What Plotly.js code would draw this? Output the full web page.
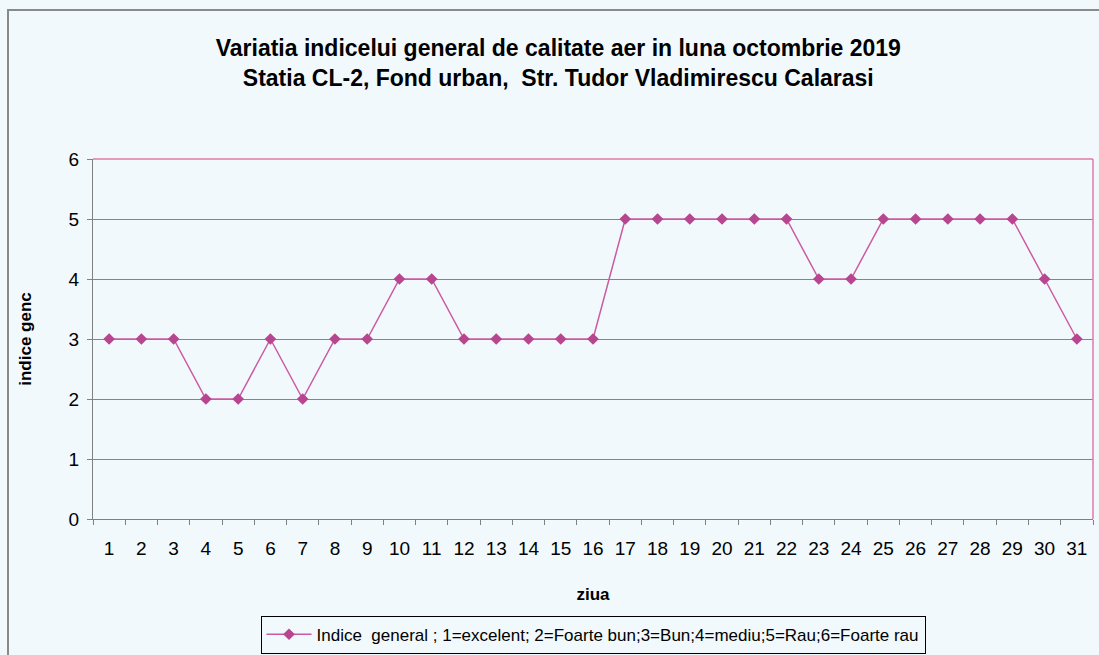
<!DOCTYPE html>
<html>
<head>
<meta charset="utf-8">
<script src="https://cdn.plot.ly/plotly-3.0.1.min.js"></script>
<style>html,body{margin:0;padding:0;background:#f1f9fc;}</style>
</head>
<body>
<div id="chart" style="width:1099px;height:655px;"></div>
<script>
const days = ['1','2','3','4','5','6','7','8','9','10','11','12','13','14','15','16','17','18','19','20','21','22','23','24','25','26','27','28','29','30','31'];
const indice = [3,3,3,2,2,3,2,3,3,4,4,3,3,3,3,3,5,5,5,5,5,5,4,4,5,5,5,5,5,4,3];
const seriesName = 'Indice  general ; 1=excelent; 2=Foarte bun;3=Bun;4=mediu;5=Rau;6=Foarte rau';
const titleText = 'Variatia indicelui general de calitate aer in luna octombrie 2019<br>Statia CL-2, Fond urban,  Str. Tudor Vladimirescu Calarasi';

const trace = {
  x: days, y: indice, name: seriesName, type: 'scatter', mode: 'lines+markers',
  line: {color: '#cc5aa3', width: 1.5},
  marker: {symbol: 'diamond', size: 9, color: '#b8458f'},
  showlegend: true
};
const layout = {
  width: 1099, height: 655,
  paper_bgcolor: '#f1f9fc', plot_bgcolor: '#f1f9fc',
  margin: {l: 93, r: 6, t: 159, b: 136},
  font: {family: 'Arial, Liberation Sans, sans-serif', color: '#000'},
  title: {text: titleText, x: 0.508, xanchor: 'center', y: 0.915, yanchor: 'top',
          font: {size: 23, family: 'Arial, Liberation Sans, sans-serif', weight: 'bold', color: '#000'}},
  xaxis: {type: 'category', range: [-0.5, 30.5], showgrid: false, zeroline: false, automargin: false,
          showline: true, linecolor: '#808080', linewidth: 1,
          ticks: 'outside', ticklen: 5, tickcolor: '#808080', tickson: 'boundaries',
          ticklabelstandoff: 12,
          tickfont: {size: 19}, tickangle: 0,
          title: {text: 'ziua', font: {size: 17, weight: 'bold'}, standoff: 30}},
  yaxis: {range: [0, 6], dtick: 1, showgrid: true, gridcolor: '#858585', gridwidth: 1, automargin: false,
          zeroline: false, showline: true, linecolor: '#808080', linewidth: 1,
          ticks: 'outside', ticklen: 5, tickcolor: '#808080',
          ticklabelstandoff: 4,
          tickfont: {size: 19},
          title: {text: 'indice genc', font: {size: 17, weight: 'bold'}, standoff: 32}},
  showlegend: true,
  legend: {orientation: 'h', x: 0.5, xanchor: 'center', yref: 'container', y: 0.06, yanchor: 'top',
           bordercolor: '#000', borderwidth: 1, bgcolor: '#f1f9fc', itemwidth: 45,
           font: {size: 17}},
  shapes: [
    {type: 'line', xref: 'paper', yref: 'paper', x0: 0, x1: 1, y0: 1, y1: 1, line: {color: '#e07aa8', width: 1.5}},
    {type: 'line', xref: 'paper', yref: 'paper', x0: 1, x1: 1, y0: 0, y1: 1, line: {color: '#e07aa8', width: 1.5}},
    {type: 'rect', xref: 'paper', yref: 'paper', x0: -0.085, x1: 1.2, y0: -0.5, y1: 1.414, line: {color: '#8a8a8a', width: 2}}
  ]
};
Plotly.newPlot('chart', [trace], layout, {displayModeBar: false, staticPlot: true});
</script>
</body>
</html>
